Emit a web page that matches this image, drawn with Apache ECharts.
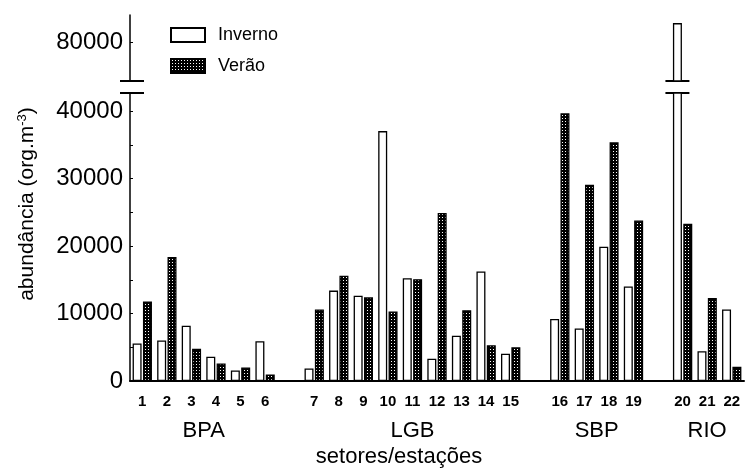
<!DOCTYPE html>
<html>
<head>
<meta charset="utf-8">
<script src="https://cdn.jsdelivr.net/npm/echarts@6/dist/echarts.min.js"></script>
<style>
    html, body { margin: 0; padding: 0; background: #fff; }
    #chart { width: 747px; height: 470px; }
</style>
</head>
<body>
<div id="chart"></div>
<script>
    // estações (blank slots separate the sectors)
    const categories = ['1', '2', '3', '4', '5', '6', '',
        '7', '8', '9', '10', '11', '12', '13', '14', '15', '',
        '16', '17', '18', '19', '',
        '20', '21', '22'];
    const sectors = ['BPA', 'LGB', 'SBP', 'RIO'];
    const sectorFirst = ['1', '7', '16', '20'];
    const sectorLast = ['6', '15', '19', '22'];

    const inverno = [5550, 6000, 8200, 3600, 1550, 5900, '-',
        1850, 13400, 12650, 37050, 15250, 3300, 6700, 16250, 4050, '-',
        9200, 7800, 19900, 14000, '-',
        82800, 4400, 10600];
    const verao = [11800, 18400, 4800, 2600, 2000, 950, '-',
        10600, 15600, 12400, 10300, 15100, 24900, 10500, 5300, 5000, '-',
        39700, 29100, 35400, 23800, '-',
        23300, 12300, 2100];

    const lowerLabels = [0, 10000, 20000, 30000, 40000];
    const lowerTicks = [0, 5000, 10000, 15000, 20000, 25000, 30000, 35000, 40000];
    const upperLabels = [80000];

    const lowerMax = 42700;
    const upperMin = 74200;
    const upperMax = 84000;

    // dotted fill for Verão
    function dots() {
        let c = document.createElement('canvas');
        c.width = 3;
        c.height = 3;
        let ctx = c.getContext('2d');
        ctx.fillStyle = '#000';
        ctx.fillRect(0, 0, 3, 3);
        ctx.fillStyle = '#fff';
        ctx.fillRect(1, 1, 1, 1);
        return c;
    }
    const dotFill = { image: dots(), repeat: 'repeat' };

    const font = '"Liberation Sans", Arial, sans-serif';
    const invStyle = { color: '#fff', borderColor: '#000', borderWidth: 1.3 };
    const verStyle = { color: dotFill, borderColor: '#000', borderWidth: 1.3 };
    const barW = 9;
    const plain = v => String(v);

    let myChart = echarts.init(document.getElementById('chart'));

    let option = {
        animation: false,
        textStyle: { fontFamily: font, color: '#000' },
        grid: [
            { left: 130, right: 3, top: 93, bottom: 89 },   // 0 .. 42700
            { left: 130, right: 3, top: 15, bottom: 389 }   // 74200 .. 84000
        ],
        legend: {
            orient: 'vertical',
            left: 165,
            top: 21,
            itemWidth: 34,
            itemHeight: 14,
            itemGap: 13,
            icon: 'rect',
            data: ['Inverno', 'Verão'],
            textStyle: { fontSize: 18, fontFamily: font, color: '#000', lineHeight: 14, padding: [0, 0, 0, 8] }
        },
        xAxis: [
            {
                type: 'category',
                gridIndex: 0,
                data: categories,
                axisLine: { lineStyle: { color: '#000', width: 2 } },
                axisTick: { show: false },
                axisLabel: { interval: 0, fontSize: 15, fontWeight: 'bold', margin: 13, color: '#000', fontFamily: font }
            },
            {
                type: 'category',
                gridIndex: 1,
                data: categories,
                show: false
            }
        ],
        yAxis: [
            {
                type: 'value',
                gridIndex: 0,
                min: 0,
                max: lowerMax,
                splitLine: { show: false },
                axisLine: { show: true, lineStyle: { color: '#000', width: 1.5 } },
                axisTick: { show: true, inside: true, length: 3, customValues: lowerTicks, lineStyle: { color: '#000' } },
                axisLabel: { fontSize: 24, margin: 7, color: '#000', fontFamily: font, customValues: lowerLabels, formatter: plain }
            },
            {
                type: 'value',
                gridIndex: 1,
                min: upperMin,
                max: upperMax,
                splitLine: { show: false },
                axisLine: { show: true, lineStyle: { color: '#000', width: 1.5 } },
                axisTick: { show: true, inside: true, length: 3, customValues: upperLabels, lineStyle: { color: '#000' } },
                axisLabel: { fontSize: 24, margin: 7, color: '#000', fontFamily: font, customValues: upperLabels, formatter: plain }
            }
        ],
        series: [
            {
                name: 'Inverno', type: 'bar', xAxisIndex: 0, yAxisIndex: 0,
                barWidth: barW, barGap: '15%', itemStyle: invStyle, data: inverno
            },
            {
                name: 'Verão', type: 'bar', xAxisIndex: 0, yAxisIndex: 0,
                barWidth: barW, barGap: '15%', itemStyle: verStyle, data: verao
            },
            {
                name: 'Inverno', type: 'bar', xAxisIndex: 1, yAxisIndex: 1,
                barWidth: barW, barGap: '15%', itemStyle: invStyle,
                data: inverno.map(v => (v !== '-' && v > upperMin) ? v : '-')
            },
            {
                name: 'Verão', type: 'bar', xAxisIndex: 1, yAxisIndex: 1,
                barWidth: barW, barGap: '15%', itemStyle: verStyle,
                data: verao.map(v => (v !== '-' && v > upperMin) ? v : '-')
            }
        ]
    };
    myChart.setOption(option);

    // break marks, sector names and axis titles
    let graphics = [];
    let yBreakLow = myChart.convertToPixel({ yAxisIndex: 0 }, lowerMax);
    let yBreakHigh = myChart.convertToPixel({ yAxisIndex: 1 }, upperMin);
    [yBreakLow, yBreakHigh].forEach(y => {
        graphics.push({ type: 'line', shape: { x1: 120, y1: y, x2: 144, y2: y }, style: { stroke: '#000', lineWidth: 2 } });
    });
    inverno.forEach((v, i) => {
        if (v !== '-' && v > lowerMax) {
            let cx = myChart.convertToPixel({ xAxisIndex: 0 }, categories[i]) - (barW * 1.15) / 2;
            [yBreakLow, yBreakHigh].forEach(y => {
                graphics.push({ type: 'line', shape: { x1: cx - 12, y1: y, x2: cx + 12, y2: y }, style: { stroke: '#000', lineWidth: 2 } });
            });
        }
    });
    sectors.forEach((s, i) => {
        let x1 = myChart.convertToPixel({ xAxisIndex: 0 }, sectorFirst[i]);
        let x2 = myChart.convertToPixel({ xAxisIndex: 0 }, sectorLast[i]);
        graphics.push({
            type: 'text', x: (x1 + x2) / 2, y: 431,
            style: { text: s, font: '22px ' + font, fill: '#000', align: 'center', verticalAlign: 'middle' }
        });
    });
    graphics.push({
        type: 'text', x: 399, y: 457,
        style: { text: 'setores/estações', font: '22px ' + font, fill: '#000', align: 'center', verticalAlign: 'middle' }
    });
    graphics.push({
        type: 'text', x: 27, y: 204, rotation: Math.PI / 2,
        style: {
            text: 'abundância (org.m{sup|-3})',
            font: '21px ' + font, fill: '#000', align: 'center', verticalAlign: 'middle',
            rich: { sup: { fontSize: 13, fontFamily: font, verticalAlign: 'top', padding: [0, 0, 10, 0] } }
        }
    });
    myChart.setOption({ graphic: graphics });
</script>
</body>
</html>
